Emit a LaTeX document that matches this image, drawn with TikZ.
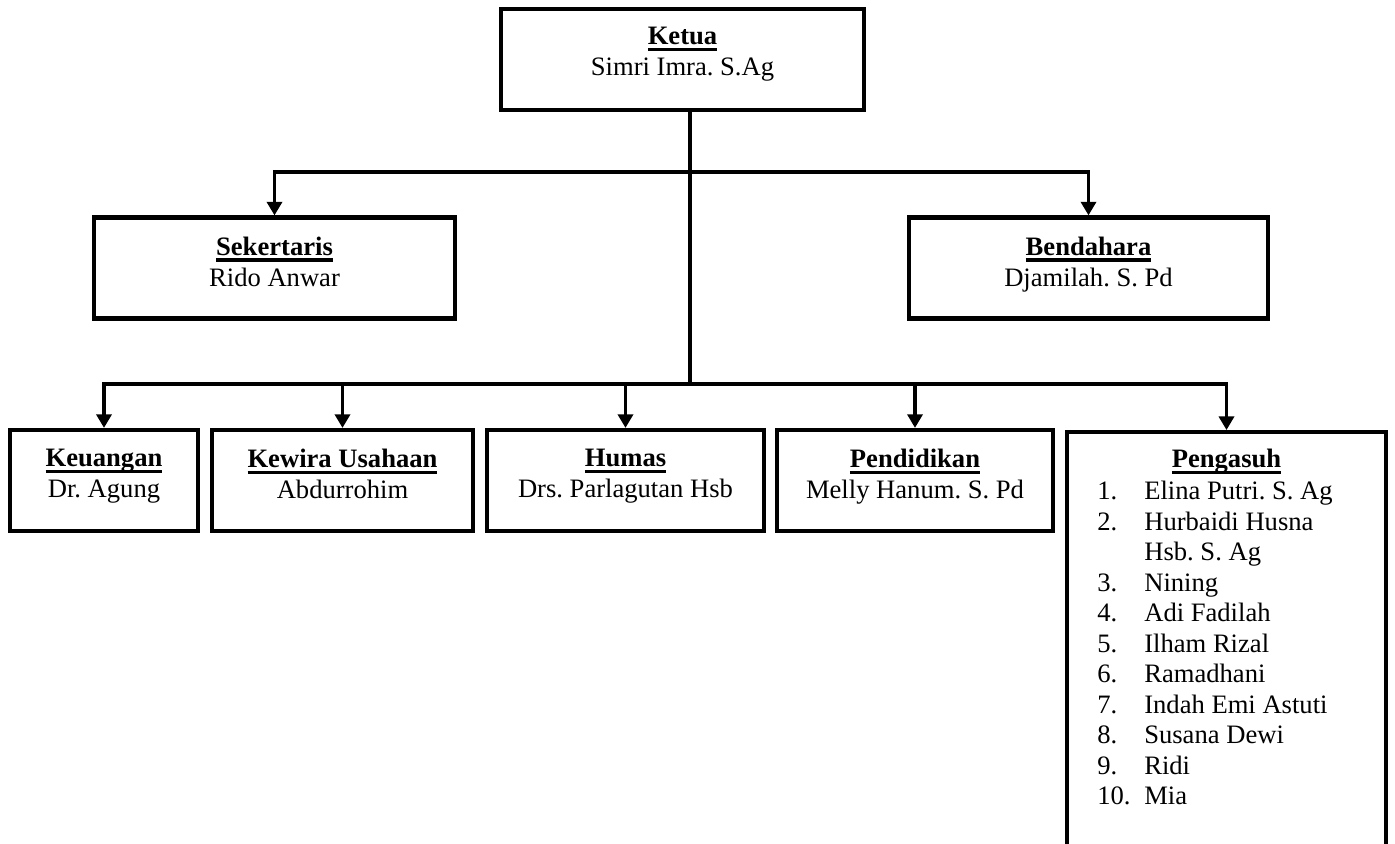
\documentclass[tikz,border=0pt]{standalone}
\usepackage{fontspec}
\setmainfont{Liberation Serif}
\usetikzlibrary{positioning}
\usetikzlibrary{arrows.meta}

\frenchspacing
\newcommand\uhead[1]{\setbox0=\hbox{\bfseries #1}\rlap{\rule[-3.2pt]{\wd0}{1.8pt}}\box0}
\newcommand\pitem[2]{\makebox[23.5pt][l]{#1}#2}

\begin{document}
\begin{tikzpicture}[x=0.5pt, y=-0.5pt
  , font=\fontsize{13.3}{15.5}\selectfont
  , post/.style={draw, line width=2.1pt, minimum height=50.5pt}
  , txt/.style={align=center, inner sep=0pt}
  , wire/.style={line width=1.75pt}
  , arr/.style={wire, -{Triangle[width=7.5pt, length=6.8pt]}}
  ]

  \useasboundingbox (0,0) rectangle (1395,843);
  \clip (0,0) rectangle (1395,843);

  % pengurus inti
  \node [post, minimum width=181.5pt] (ketua)      at (682.5,59.5) {};
  \node [post, minimum width=180.5pt] (sekertaris) at (274.5,268)  {};
  \node [post, minimum width=179.5pt] (bendahara)  at (1088.5,268) {};

  % bidang
  \node [post, minimum width=94pt]    (keuangan)   at (104,480.5)   {};
  \node [post, minimum width=130.5pt] (kewira)     at (342.5,480.5) {};
  \node [post, minimum width=138.5pt] (humas)      at (625.5,480.5) {};
  \node [post, minimum width=138pt]   (pendidikan) at (915,480.5)   {};
  \node [post, minimum width=159.5pt, minimum height=250pt, anchor=north]
        (pengasuh) at (1226.5,430) {};

  \node [txt, below=10pt of ketua.north]      (ketuatext)      {\uhead{Ketua}\\Simri Imra. S.Ag};
  \node [txt, below=10.5pt of sekertaris.north] (sekertaristext) {\uhead{Sekertaris}\\Rido Anwar};
  \node [txt, below=10.5pt of bendahara.north]  (bendaharatext)  {\uhead{Bendahara}\\Djamilah. S. Pd};
  \node [txt, below=10.5pt of keuangan.north]   (keuangantext)   {\uhead{Keuangan}\\Dr. Agung};
  \node [txt, below=10.5pt of kewira.north]     (kewiratext)     {\uhead{Kewira Usahaan}\\Abdurrohim};
  \node [txt, below=10.5pt of humas.north]      (humastext)      {\uhead{Humas}\\Drs. Parlagutan Hsb};
  \node [txt, below=10.5pt of pendidikan.north] (pendidikantext) {\uhead{Pendidikan}\\Melly Hanum. S. Pd};
  \node [txt, below=9.5pt of pengasuh.north]    (pengasuhtext)   {\uhead{Pengasuh}};
  \node [txt, align=left, font=\fontsize{13.3}{15.25}\selectfont
        , below right=25.5pt and 16pt of pengasuh.north west] (pengasuhlist)
    {\pitem{1.}{Elina Putri. S. Ag}\\
     \pitem{2.}{Hurbaidi Husna}\\
     \pitem{}{Hsb. S. Ag}\\
     \pitem{3.}{Nining}\\
     \pitem{4.}{Adi Fadilah}\\
     \pitem{5.}{Ilham Rizal}\\
     \pitem{6.}{Ramadhani}\\
     \pitem{7.}{Indah Emi Astuti}\\
     \pitem{8.}{Susana Dewi}\\
     \pitem{9.}{Ridi}\\
     \pitem{10.}{Mia}};

  % garis
  \coordinate (hubtop) at (690,172);
  \coordinate (hubbot) at (690,384);
  \draw [wire] (ketua.south -| hubtop) -- (hubbot);
  \draw [arr] (hubtop) -| (sekertaris.north);
  \draw [arr] (hubtop) -| (bendahara.north);
  \foreach \n in {keuangan, kewira, humas, pendidikan, pengasuh}
    \draw [arr] (hubbot) -| (\n.north);

\end{tikzpicture}
\end{document}
